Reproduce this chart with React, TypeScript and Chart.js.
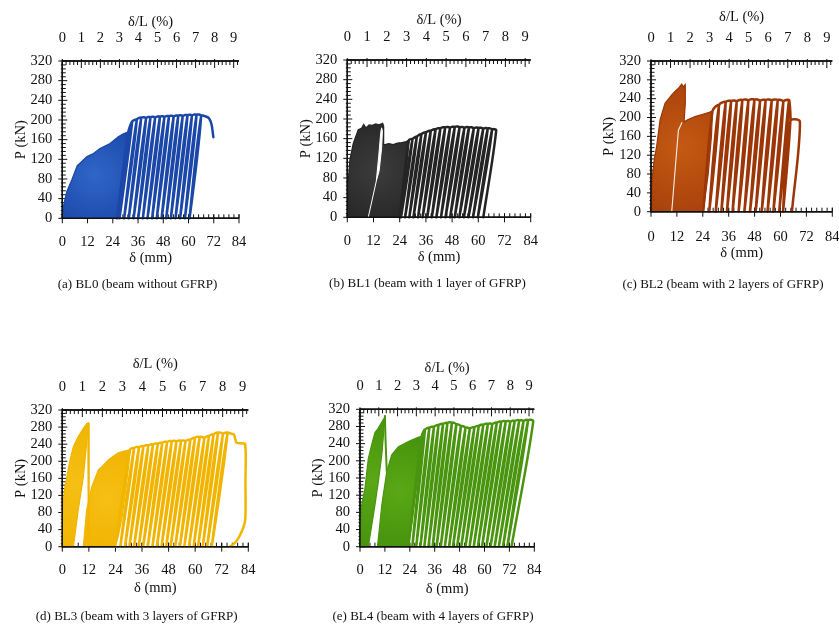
import React, { useEffect, useRef } from "react";
import { Chart, registerables } from "chart.js";

Chart.register(...registerables);

// ---------- shared axis values ----------
const X_TICKS = [0, 12, 24, 36, 48, 60, 72, 84];
const Y_TICKS = [0, 40, 80, 120, 160, 200, 240, 280, 320];
const DRIFT_TICKS = [0, 1, 2, 3, 4, 5, 6, 7, 8, 9];
const X_MAX = 84;
const Y_MAX = 320;
const DRIFT_MAX = 9.28;
const X_MINOR = 2.4;
const Y_MINOR = 8;
const DRIFT_MINOR = 0.2;

// ---------- (a) BL0 ----------
const A_DENSE_X = [0, 0.5, 2.1, 4.5, 7.1, 8.4, 11.6, 14.5, 17.9, 22.7, 26.6, 29, 31.4, 30.4, 28.8, 27.2, 26];
const A_DENSE_P = [0, 24, 54, 78, 107, 112, 125, 131, 142, 152, 166, 172, 176, 120, 60, 20, 0];
const A_START_X = [26, 31.4];
const A_START_P = [0, 176];
const A_PEAK_X = [33.2, 35.4, 37.5, 39.8, 41.9, 44.1, 46.4, 48.5, 50.7, 52.9, 55.1, 57.2, 59.5, 61.6, 63.8, 66, 68.3];
const A_PEAK_P = [196, 200, 204, 203, 205, 204, 206, 205, 207, 206, 208, 207, 209, 208, 210, 208, 207];
const A_RESID = [27.2, 29.4, 31.6, 33.9, 36.1, 38.3, 40.5, 42.7, 44.9, 47.2, 49.4, 51.6, 53.8, 56, 58.3, 60.5];
const A_TAIL_X = [69.8, 71, 71.8];
const A_TAIL_P = [203, 190, 165];

// ---------- (b) BL1 ----------
const B_DENSE_X = [0, 0.2, 1.2, 2.7, 5, 6.5, 7.5, 8.5, 10, 11.5, 13, 14.5, 16.2, 16.6, 16.7, 16.6, 17.3, 19, 21, 23, 25, 27, 28.2, 27.6, 26, 24];
const B_DENSE_P = [0, 60, 117, 150, 178, 181, 189, 182, 188, 187, 190, 188, 191, 186, 165, 148, 148, 150, 148, 151, 152, 154, 157, 120, 60, 0];
const B_HOLE_X = [9.6, 13.3, 14.4, 15.3, 15.7, 16.1, 15.7, 14.6, 13.3];
const B_HOLE_P = [0, 74, 125, 172, 182, 176, 140, 95, 74];
const B_START_X = [24, 28.2];
const B_START_P = [0, 157];
const B_PEAK_X = [29.8, 31.8, 33.9, 36, 38.2, 40.4, 42.6, 44.8, 47, 49.2, 51.4, 53.6, 55.7, 57.9, 60.1, 62.2, 64.3, 66.3, 68.2];
const B_PEAK_P = [158, 163, 168, 172, 175, 178, 180, 182, 181, 183, 182, 181, 182, 180, 181, 179, 180, 178, 177];
const B_RESID = [24.6, 26.5, 28.4, 30.3, 32.4, 34.5, 36.6, 38.7, 40.8, 42.9, 45, 47.1, 49.2, 51.3, 53.4, 55.5, 57.6, 59.8, 62.3];

// ---------- (c) BL2 ----------
const C_DENSE_X = [0, 0.3, 0.6, 1.5, 2.6, 4.2, 6.5, 9.6, 11, 12.7, 14.2, 14.9, 15.8, 15.9, 15.3, 17, 20.4, 24, 27, 28.5, 28, 26.5, 24.2];
const C_DENSE_P = [0, 40, 74, 110, 138, 195, 230, 248, 255, 262, 271, 265, 270, 230, 191, 195, 202, 207, 211, 214, 160, 80, 0];
const C_SEAM_X = [9.6, 11.2, 12.7, 14.4];
const C_SEAM_P = [0, 90, 173, 190];
const C_START_X = [24.2, 28.5];
const C_START_P = [0, 214];
const C_PEAK_X = [31.5, 34.6, 37.1, 39.7, 42.3, 45.1, 47.9, 50.5, 53.1, 55.9, 58.7, 61.3, 63.9, 64.6, 69];
const C_PEAK_P = [226, 232, 234, 233, 236, 235, 237, 234, 236, 235, 236, 233, 236, 193, 191];
const C_RESID = [27, 30, 32.6, 35.2, 37.8, 40.6, 43.3, 45.9, 48.5, 51.3, 54, 56.7, 59.4, 61.2, 65.3];

// ---------- (d) BL3 ----------
const D_DENSE1_X = [0, 0, 1.2, 3.5, 5, 7.2, 9.5, 11, 11.7, 11.4, 11, 9.5, 7.2, 5];
const D_DENSE1_P = [0, 86, 140, 203, 234, 258, 277, 288, 290, 268, 242, 164, 86, 0];
const D_DROP_X = [11.7, 11.9, 12];
const D_DROP_P = [290, 150, 0];
const D_DENSE2_X = [9.5, 11, 13.3, 16.3, 18, 20.8, 23, 25.3, 28, 30.6, 30, 28.6, 27, 25.3, 23.8];
const D_DENSE2_P = [0, 86, 140, 180, 188, 203, 212, 220, 224, 227, 190, 130, 70, 25, 0];
const D_START_X = [23.8, 30.6];
const D_START_P = [0, 227];
const D_PEAK_X = [32.4, 34.6, 36.6, 38.8, 40.9, 43.1, 45.1, 47.3, 49.4, 51.5, 53.6, 55.6, 57.8, 59.9, 62, 64.1, 66.2, 68.3, 70.3, 72.5, 74.6, 76.6];
const D_PEAK_P = [230, 232, 234, 236, 238, 240, 242, 244, 246, 245, 247, 246, 249, 254, 256, 253, 258, 262, 266, 263, 266, 264];
const D_RESID = [26.2, 28.3, 30.3, 32.4, 34.5, 36.5, 38.6, 40.7, 42.7, 44.8, 46.9, 48.9, 51, 53.1, 55.1, 57.2, 59.3, 61.3, 63.4, 65.4, 67.5];
const D_TAIL_X = [77.6, 78.6, 80.5, 82.6, 82.7, 82.6, 81, 78.5, 75.7];
const D_TAIL_P = [262, 244, 242, 240, 150, 62, 35, 12, 0];

// ---------- (e) BL4 ----------
const E_DENSE1_X = [0, 0.3, 0.8, 2.4, 4, 5.6, 7.2, 8.5, 10.5, 11.7, 12, 11.8, 10.5, 8.8, 7.2, 5.5, 4];
const E_DENSE1_P = [0, 50, 97, 136, 205, 237, 266, 274, 290, 300, 306, 294, 214, 150, 97, 45, 0];
const E_DROP_X = [12, 12.3, 12.9];
const E_DROP_P = [306, 250, 175];
const E_DENSE2_X = [8.4, 9.3, 10.5, 12.9, 15.3, 18.5, 23.3, 26, 28, 29.7, 29.2, 27.2, 25.2, 23.3];
const E_DENSE2_P = [0, 40, 97, 175, 214, 233, 245, 251, 255, 257, 200, 136, 60, 0];
const E_START_X = [23.3, 29.7];
const E_START_P = [0, 257];
const E_PEAK_X = [31.3, 33.4, 35.6, 37.8, 40, 42.1, 44.3, 46.4, 48.6, 50.8, 52.9, 55.1, 57.2, 59.4, 61.6, 63.7, 65.9, 68, 70.2, 72.4, 74.5, 76.7, 78.8, 81, 83.5];
const E_PEAK_P = [272, 276, 278, 282, 285, 287, 288, 284, 280, 276, 274, 277, 280, 283, 285, 284, 288, 290, 291, 290, 292, 293, 292, 294, 292];
const E_RESID = [25.2, 27.1, 29.1, 31, 33, 35, 36.9, 38.9, 40.9, 42.9, 44.8, 46.8, 48.8, 50.8, 52.8, 54.8, 56.8, 58.8, 60.9, 62.9, 64.9, 66.9, 68.9, 71, 73];

// ---------- panel layout / style ----------
type Series = [number[], number[]];
type PanelDef = {
  id: string;
  caption: string;
  box: { x: number; y: number; w: number; h: number };
  area: { l: number; r: number; t: number; b: number };
  cap: { x: number; y: number };
  driftTitleDy: number;
  xLabelDy: number;
  xTitleDy: number;
  edge: string;
  center: string;
  line: string;
  fills: Series[];
  holes: Series[];
  seams: Series[];
  strokes: Series[];
  cycles: {
    start: Series;
    peakX: number[];
    peakP: number[];
    resid: number[];
    tail: Series;
  };
};

const PANELS: PanelDef[] = [
  {
    id: "a",
    caption: "(a) BL0 (beam without GFRP)",
    box: { x: 0, y: 0, w: 290, h: 310 },
    area: { l: 62.3, r: 239, t: 61, b: 218.3 },
    cap: { x: 137.5, y: 285 },
    driftTitleDy: 39,
    xLabelDy: 24,
    xTitleDy: 40,
    edge: "#1c4aaa",
    center: "#2f66c8",
    line: "#1a47a8",
    fills: [[A_DENSE_X, A_DENSE_P]],
    holes: [],
    seams: [],
    strokes: [],
    cycles: { start: [A_START_X, A_START_P], peakX: A_PEAK_X, peakP: A_PEAK_P, resid: A_RESID, tail: [A_TAIL_X, A_TAIL_P] },
  },
  {
    id: "b",
    caption: "(b) BL1 (beam with 1 layer of GFRP)",
    box: { x: 290, y: 0, w: 270, h: 310 },
    area: { l: 347.3, r: 530.7, t: 60, b: 217.3 },
    cap: { x: 427.5, y: 283.3 },
    driftTitleDy: 39.5,
    xLabelDy: 23.5,
    xTitleDy: 39.5,
    edge: "#262626",
    center: "#3c3c3c",
    line: "#242424",
    fills: [[B_DENSE_X, B_DENSE_P]],
    holes: [[B_HOLE_X, B_HOLE_P]],
    seams: [],
    strokes: [],
    cycles: { start: [B_START_X, B_START_P], peakX: B_PEAK_X, peakP: B_PEAK_P, resid: B_RESID, tail: [[], []] },
  },
  {
    id: "c",
    caption: "(c) BL2 (beam with 2 layers of GFRP)",
    box: { x: 560, y: 0, w: 279, h: 310 },
    area: { l: 651, r: 832.3, t: 61, b: 211.7 },
    cap: { x: 723, y: 285 },
    driftTitleDy: 44,
    xLabelDy: 25,
    xTitleDy: 41.5,
    edge: "#a53e0b",
    center: "#c45a12",
    line: "#9c3607",
    fills: [[C_DENSE_X, C_DENSE_P]],
    holes: [],
    seams: [[C_SEAM_X, C_SEAM_P]],
    strokes: [],
    cycles: { start: [C_START_X, C_START_P], peakX: C_PEAK_X, peakP: C_PEAK_P, resid: C_RESID, tail: [[], []] },
  },
  {
    id: "d",
    caption: "(d) BL3 (beam with 3 layers of GFRP)",
    box: { x: 0, y: 320, w: 290, h: 310 },
    area: { l: 62.3, r: 248.3, t: 410, b: 546.7 },
    cap: { x: 136.7, y: 616.7 },
    driftTitleDy: 46,
    xLabelDy: 23.5,
    xTitleDy: 41.5,
    edge: "#f0b300",
    center: "#f6bf14",
    line: "#f1b500",
    fills: [[D_DENSE1_X, D_DENSE1_P], [D_DENSE2_X, D_DENSE2_P]],
    holes: [],
    seams: [],
    strokes: [[D_DROP_X, D_DROP_P]],
    cycles: { start: [D_START_X, D_START_P], peakX: D_PEAK_X, peakP: D_PEAK_P, resid: D_RESID, tail: [D_TAIL_X, D_TAIL_P] },
  },
  {
    id: "e",
    caption: "(e) BL4 (beam with 4 layers of GFRP)",
    box: { x: 290, y: 320, w: 270, h: 310 },
    area: { l: 360, r: 534.3, t: 409.3, b: 546.7 },
    cap: { x: 433, y: 616.7 },
    driftTitleDy: 41,
    xLabelDy: 23.5,
    xTitleDy: 42.5,
    edge: "#438f0c",
    center: "#5aa816",
    line: "#4a950f",
    fills: [[E_DENSE1_X, E_DENSE1_P], [E_DENSE2_X, E_DENSE2_P]],
    holes: [],
    seams: [],
    strokes: [[E_DROP_X, E_DROP_P]],
    cycles: { start: [E_START_X, E_START_P], peakX: E_PEAK_X, peakP: E_PEAK_P, resid: E_RESID, tail: [[], []] },
  },
];

const INK = "#111111";
const TICK_FONT = '14.5px "Liberation Serif", "Times New Roman", serif';
const CAP_FONT = '13px "Liberation Serif", "Times New Roman", serif';

function pts(s: Series) {
  return s[0].map((x, i) => ({ x, y: s[1][i] }));
}

function cyclePath(c: PanelDef["cycles"]) {
  const out = pts(c.start);
  const n = c.peakX.length;
  c.peakX.forEach((x, i) => {
    out.push({ x, y: c.peakP[i] });
    if (i < c.resid.length) {
      out.push({ x: c.resid[i], y: 0 });
      if (i < n - 1 || c.tail[0].length) out.push({ x, y: c.peakP[i] });
    }
  });
  return out.concat(pts(c.tail));
}

function gradientFill(p: PanelDef, s: Series) {
  return (ctx: any) => {
    const chart = ctx.chart;
    const xs = chart.scales?.x;
    const ys = chart.scales?.y;
    if (!chart.chartArea || !xs || !ys) return p.edge;
    const px = s[0].map((v) => xs.getPixelForValue(v));
    const py = s[1].map((v) => ys.getPixelForValue(v));
    const x0 = Math.min(...px), x1 = Math.max(...px);
    const y0 = Math.min(...py), y1 = Math.max(...py);
    const cx = (x0 + x1) / 2, cy = (y0 + y1) / 2;
    const r = Math.max(x1 - x0, y1 - y0) * 0.6 + 1;
    const g = chart.ctx.createRadialGradient(cx, cy, 0, cx, cy, r);
    g.addColorStop(0, p.center);
    g.addColorStop(1, p.edge);
    return g;
  };
}

function makeAxesPlugin(p: PanelDef) {
  const seg = (ctx: CanvasRenderingContext2D, x1: number, y1: number, x2: number, y2: number) => {
    ctx.beginPath();
    ctx.moveTo(x1, y1);
    ctx.lineTo(x2, y2);
    ctx.stroke();
  };
  const axisLines = (chart: any) => {
    const { ctx, scales } = chart;
    const x = scales.x, y = scales.y;
    const x0 = x.getPixelForValue(0), xe = x.getPixelForValue(X_MAX);
    const y0 = y.getPixelForValue(0), yt = y.getPixelForValue(Y_MAX);
    ctx.save();
    ctx.strokeStyle = INK;
    ctx.lineWidth = 1.4;
    seg(ctx, x0, y0, xe, y0);
    seg(ctx, x0, yt, xe, yt);
    seg(ctx, x0, y0 + 0.7, x0, yt - 0.7);
    ctx.restore();
  };
  return {
    id: "paperAxes" + p.id,
    beforeDatasetsDraw(chart: any) {
      const { ctx, scales } = chart;
      const x = scales.x, y = scales.y, x2 = scales.x2;
      const x0 = x.getPixelForValue(0), xe = x.getPixelForValue(X_MAX);
      const y0 = y.getPixelForValue(0), yt = y.getPixelForValue(Y_MAX);
      ctx.save();
      ctx.strokeStyle = INK;
      ctx.lineWidth = 1;
      for (let i = 0; i * X_MINOR <= X_MAX + 1e-6; i++) {
        const px = x.getPixelForValue(i * X_MINOR);
        seg(ctx, px, y0, px, y0 - 4);
      }
      X_TICKS.forEach((v) => {
        const px = x.getPixelForValue(v);
        seg(ctx, px, y0 - 4, px, y0 + 5);
      });
      for (let i = 0; i * DRIFT_MINOR <= DRIFT_MAX + 1e-6; i++) {
        const px = x2.getPixelForValue(i * DRIFT_MINOR);
        const major = i % 5 === 0;
        seg(ctx, px, yt - (major ? 2 : 0), px, yt + (major ? 7 : 4));
      }
      for (let i = 0; i * Y_MINOR <= Y_MAX + 1e-6; i++) {
        const py = y.getPixelForValue(i * Y_MINOR);
        const major = i % 5 === 0;
        seg(ctx, x0 - (major ? 4 : 1.5), py, x0 + (major ? 5 : 3.5), py);
      }
      ctx.restore();
      axisLines(chart);

      ctx.save();
      ctx.fillStyle = INK;
      ctx.font = TICK_FONT;
      ctx.textBaseline = "middle";
      ctx.textAlign = "center";
      X_TICKS.forEach((v) => ctx.fillText(String(v), x.getPixelForValue(v), y0 + p.xLabelDy));
      DRIFT_TICKS.forEach((v) => ctx.fillText(String(v), x2.getPixelForValue(v), yt - 23.3));
      const cxm = (x0 + xe) / 2;
      ctx.fillText("\u03b4 (mm)", cxm, y0 + p.xTitleDy);
      ctx.fillText("\u03b4/L (%)", cxm, yt - p.driftTitleDy);
      ctx.textAlign = "right";
      Y_TICKS.forEach((v) => ctx.fillText(String(v), x0 - 10, y.getPixelForValue(v)));
      ctx.save();
      ctx.translate(x0 - 41.5, (y0 + yt) / 2);
      ctx.rotate(-Math.PI / 2);
      ctx.textAlign = "center";
      ctx.fillText("P (kN)", 0, 0);
      ctx.restore();
      ctx.font = CAP_FONT;
      ctx.textAlign = "center";
      ctx.fillText(p.caption, p.cap.x - p.box.x, p.cap.y - p.box.y);
      ctx.restore();
    },
    afterDatasetsDraw(chart: any) {
      axisLines(chart);
    },
  };
}

function buildConfig(p: PanelDef): any {
  const datasets: any[] = [];
  p.fills.forEach((s) =>
    datasets.push({
      data: pts(s),
      fill: "shape",
      backgroundColor: gradientFill(p, s),
      borderColor: p.line,
      borderWidth: 1.2,
      pointRadius: 0,
      tension: 0,
      clip: false,
      order: 5,
    })
  );
  p.holes.forEach((s) =>
    datasets.push({
      data: pts(s),
      fill: "shape",
      backgroundColor: "#ffffff",
      borderColor: "#ffffff",
      borderWidth: 1,
      pointRadius: 0,
      tension: 0,
      clip: false,
      order: 4,
    })
  );
  p.seams.forEach((s) =>
    datasets.push({
      data: pts(s),
      fill: false,
      borderColor: "rgba(255,255,255,0.9)",
      borderWidth: 1.1,
      pointRadius: 0,
      tension: 0,
      clip: false,
      order: 4,
    })
  );
  p.strokes.forEach((s) =>
    datasets.push({
      data: pts(s),
      fill: false,
      borderColor: p.line,
      borderWidth: 2,
      pointRadius: 0,
      tension: 0,
      clip: false,
      order: 3,
    })
  );
  datasets.push({
    data: cyclePath(p.cycles),
    fill: false,
    borderColor: p.line,
    borderWidth: 2.5,
    pointRadius: 0,
    tension: 0.3,
    borderJoinStyle: "round",
    borderCapStyle: "round",
    clip: false,
    order: 1,
  });

  const { box, area } = p;
  return {
    type: "line",
    data: { datasets },
    options: {
      responsive: false,
      animation: false,
      devicePixelRatio: 1,
      events: [],
      parsing: false,
      normalized: false,
      layout: {
        autoPadding: false,
        padding: {
          left: area.l - box.x,
          top: area.t - box.y,
          right: box.x + box.w - area.r,
          bottom: box.y + box.h - area.b,
        },
      },
      scales: {
        x: { type: "linear", min: 0, max: X_MAX, display: false },
        x2: { type: "linear", position: "top", min: 0, max: DRIFT_MAX, display: false },
        y: { type: "linear", min: 0, max: Y_MAX, display: false },
      },
      plugins: {
        legend: { display: false },
        tooltip: { enabled: false },
        title: { display: false },
      },
    },
    plugins: [makeAxesPlugin(p)],
  };
}

function PanelChart({ panel }: { panel: PanelDef }) {
  const ref = useRef<HTMLCanvasElement | null>(null);
  useEffect(() => {
    const canvas = ref.current;
    if (!canvas) return;
    const chart = new Chart(canvas, buildConfig(panel));
    return () => chart.destroy();
  }, [panel]);
  const { box } = panel;
  return (
    <canvas
      ref={ref}
      width={box.w}
      height={box.h}
      style={{ position: "absolute", left: box.x, top: box.y, width: box.w, height: box.h }}
    />
  );
}

export default function App() {
  return (
    <div
      style={{
        position: "fixed",
        left: 0,
        top: 0,
        width: 839,
        height: 630,
        background: "#ffffff",
        overflow: "hidden",
      }}
    >
      {PANELS.map((p) => (
        <PanelChart key={p.id} panel={p} />
      ))}
    </div>
  );
}
